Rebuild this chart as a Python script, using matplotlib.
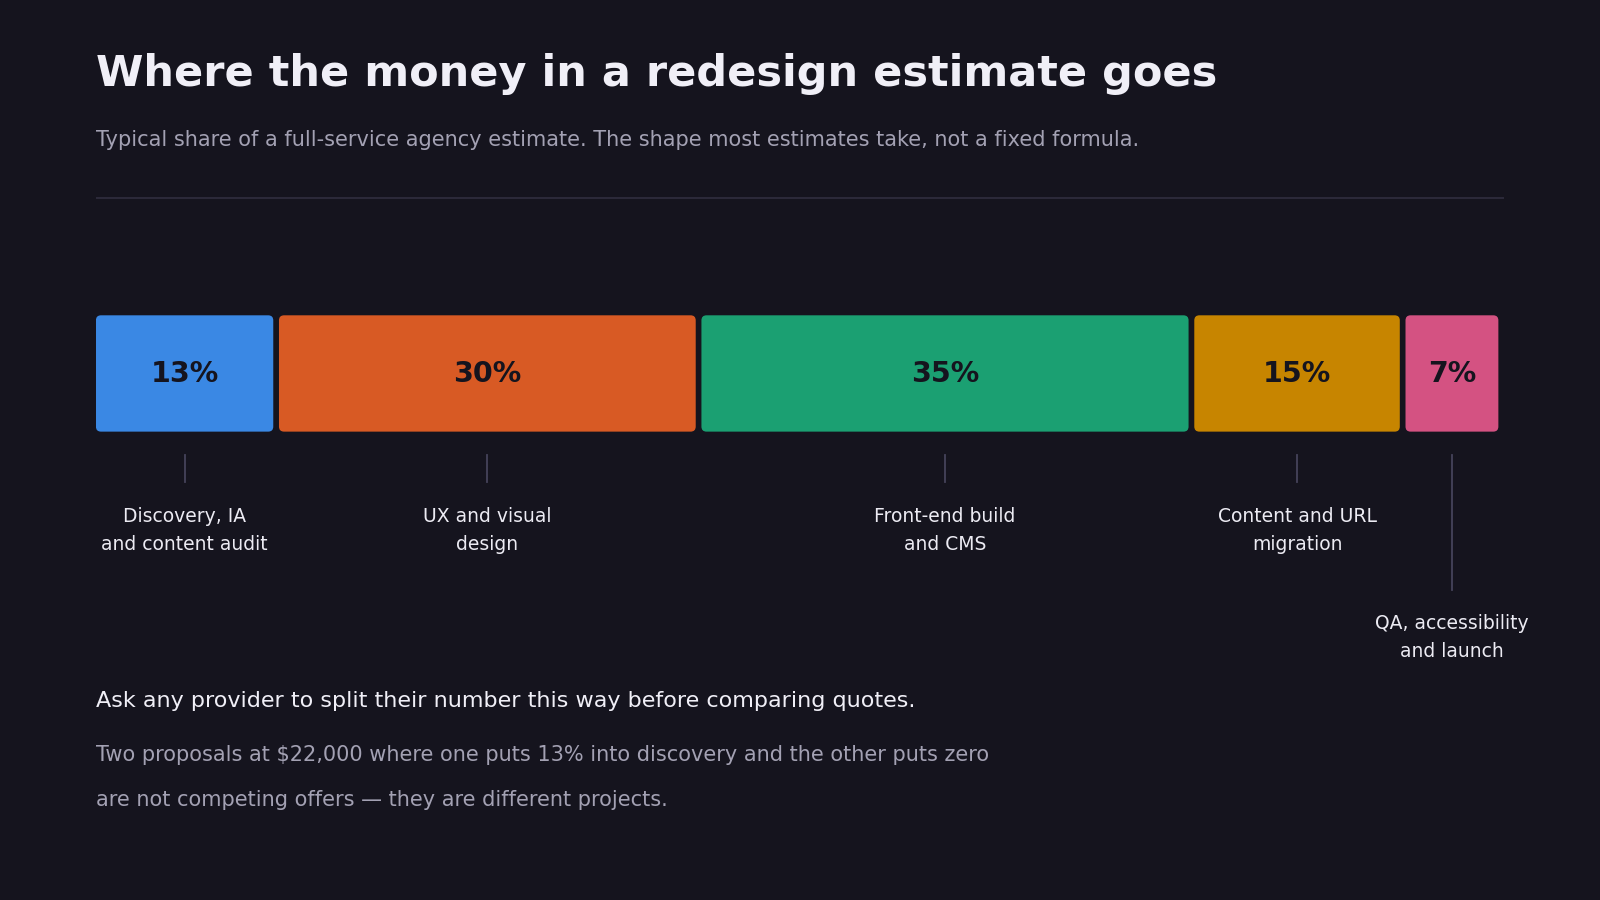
import matplotlib
matplotlib.use("Agg")
import matplotlib.pyplot as plt
from matplotlib.patches import FancyBboxPatch

# ---- data ----
categories = ["Discovery, IA\nand content audit", "UX and visual\ndesign",
              "Front-end build\nand CMS", "Content and URL\nmigration",
              "QA, accessibility\nand launch"]
shares = [13, 30, 35, 15, 7]
pct_labels = ["13%", "30%", "35%", "15%", "7%"]
colors = ["#3a88e4", "#d85a24", "#1ba072", "#c78500", "#d45282"]

title = "Where the money in a redesign estimate goes"
subtitle = "Typical share of a full-service agency estimate. The shape most estimates take, not a fixed formula."
footer_lead = "Ask any provider to split their number this way before comparing quotes."
footer_body = ["Two proposals at $22,000 where one puts 13% into discovery and the other puts zero",
               "are not competing offers \u2014 they are different projects."]

BG = "#15141e"
W, H = 1568, 882  # layout reference frame

fig = plt.figure(figsize=(16, 9), dpi=100, facecolor=BG)
x0, x1 = 94, 1474
ax = fig.add_axes([x0 / W, 0, (x1 - x0) / W, 1])
ax.set_facecolor(BG)
ax.set_xlim(0, 100)
ax.set_ylim(H, 0)
ax.axis("off")

px_per_unit = (x1 - x0) / 100.0
gap = 5.6 / px_per_unit
bar_top, bar_bot = 309, 423
r_px = 5
r = r_px / px_per_unit

# title, subtitle, rule
ax.text(0, 84, title, fontsize=31, fontweight="bold", color="#f0eff7",
        va="baseline", ha="left")
ax.text(0, 143, subtitle, fontsize=15, color="#a3a1b3", va="baseline", ha="left")
ax.plot([0, 100], [194, 194], color="#2e2c3c", lw=1.3, solid_capstyle="butt")

cum = 0
for i, (cat, v, lab, c) in enumerate(zip(categories, shares, pct_labels, colors)):
    left = cum
    width = v - gap
    patch = FancyBboxPatch((left, bar_top), width, bar_bot - bar_top,
                           boxstyle=f"round,pad=0,rounding_size={r}",
                           mutation_aspect=px_per_unit,
                           facecolor=c, edgecolor="none")
    ax.add_patch(patch)
    cx = left + width / 2
    ax.text(cx, (bar_top + bar_bot) / 2 + 1, lab, fontsize=20.5, fontweight="bold",
            color="#15141e", ha="center", va="center")
    last = i == len(shares) - 1
    line_end = 578 if last else 472
    ax.plot([cx, cx], [446, line_end], color="#45435a", lw=1.3)
    label_y = 625 if last else 519.5
    ax.text(cx, label_y, cat, fontsize=13.5, color="#ecebf3", ha="center",
            va="center", linespacing=1.6)
    cum += v

ax.text(0, 687, footer_lead, fontsize=16, color="#f0eff7", va="center", ha="left")
for j, line in enumerate(footer_body):
    ax.text(0, 740 + 44 * j, line, fontsize=15, color="#a3a1b3", va="center", ha="left")

fig.savefig("out.png", dpi=100, facecolor=BG)
